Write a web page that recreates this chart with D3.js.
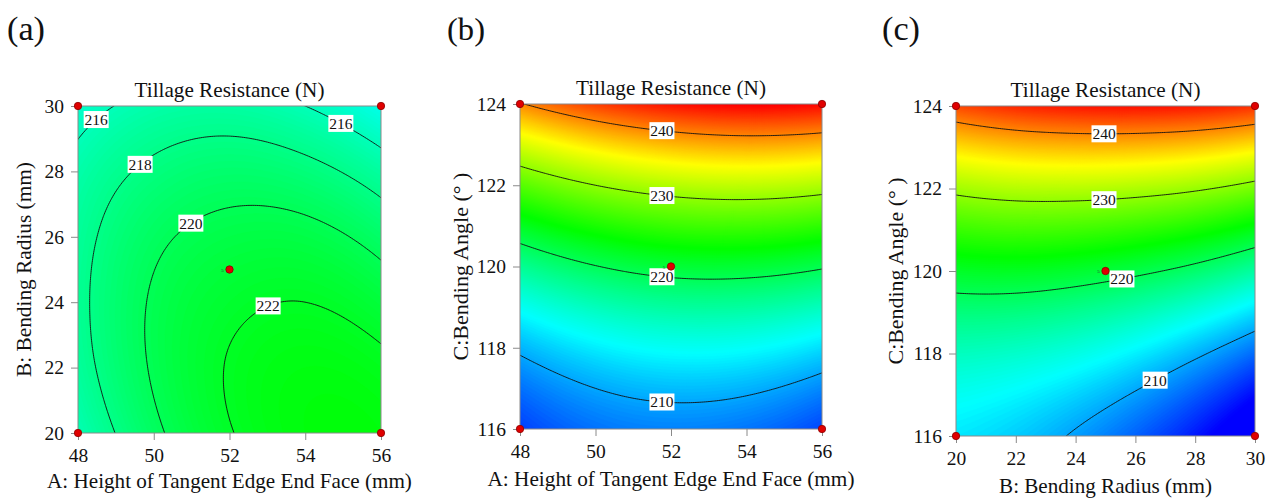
<!DOCTYPE html>
<html>
<head>
<meta charset="utf-8">
<script src="https://cdn.jsdelivr.net/npm/d3@7"></script>
<style>
  body { margin: 0; background: #fff; }
</style>
</head>
<body>
<script>
// ---------------- DATA ----------------
const aTicks = [48, 50, 52, 54, 56];          // A: Height of Tangent Edge End Face (mm)
const bTicks = [20, 22, 24, 26, 28, 30];      // B: Bending Radius (mm)
const cTicks = [116, 118, 120, 122, 124];     // C: Bending Angle (°)

// Tillage resistance (N); rows = B (20 -> 30), cols = A (48 -> 56), C held at 120
const resistanceAB = [
  [216.2, 219.6, 221.9, 223.0, 223.0],
  [217.2, 220.2, 222.1, 222.8, 222.4],
  [217.5, 220.2, 221.6, 222.0, 221.1],
  [217.3, 219.6, 220.6, 220.6, 219.3],
  [216.6, 218.4, 219.1, 218.6, 217.0],
  [215.2, 216.6, 216.9, 216.0, 214.0]
];
// rows = C (116 -> 124), cols = A (48 -> 56), B held at 25
const resistanceAC = [
  [206.3, 208.1, 208.7, 208.2, 206.5],
  [210.5, 212.6, 213.6, 213.4, 212.0],
  [217.5, 219.9, 221.2, 221.3, 220.3],
  [227.3, 230.0, 231.6, 232.1, 231.4],
  [239.8, 242.9, 244.8, 245.6, 245.2]
];
// rows = C (116 -> 124), cols = B (20 -> 30), A held at 52
const resistanceBC = [
  [212.4, 211.4, 209.7, 207.5, 204.8, 201.4],
  [215.8, 215.3, 214.3, 212.7, 210.5, 207.8],
  [221.9, 222.1, 221.6, 220.6, 219.1, 216.9],
  [230.8, 231.6, 231.7, 231.3, 230.4, 228.8],
  [242.5, 243.9, 244.6, 244.8, 244.5, 243.5]
];

const levelsAB = [216, 218, 220, 222];
const levelsC = [210, 220, 230, 240];

const colorStops = [204, 213.2, 223.5, 235, 245.5];
const colorNames = ["#0000ff", "#00ffff", "#00ff00", "#ffff00", "#ff0000"];

const designAB = [[48, 20], [56, 20], [48, 30], [56, 30], [52, 25]];
const designAC = [[48, 116], [56, 116], [48, 124], [56, 124], [52, 120]];
const designBC = [[20, 116], [30, 116], [20, 124], [30, 124], [25, 120]];
const centerRuns = 5;

// ---------------- LAYOUT ----------------
const FONT = "Liberation Serif";
const W = 1271, H = 501;
const svg = d3.select("body").append("svg").attr("width", W).attr("height", H)
  .attr("font-family", FONT);
const color = d3.scaleLinear().domain(colorStops).range(colorNames).clamp(true);

function fit(sel, target, base) {
  sel.attr("font-family", FONT).attr("font-size", base);
  const w = sel.node().getComputedTextLength();
  if (w > 0) sel.attr("font-size", base * target / w);
  return sel;
}

const panels = [
  { tag: "(a)", tagX: 7, box: { l: 78, t: 106, r: 381, b: 433 },
    xt: aTicks, yt: bTicks, grid: resistanceAB, levels: levelsAB, points: designAB,
    xTitle: "A: Height of Tangent Edge End Face (mm)", yTitle: "B: Bending Radius (mm)",
    xTitleW: 365, yTitleW: 215, yTitleX: 31, xTitleDy: 55,
    labels: [[216, 48.48, 29.66], [216, 54.94, 29.45], [218, 49.64, 28.38], [220, 50.98, 26.54], [222, 53.02, 23.88]] },
  { tag: "(b)", tagX: 447, box: { l: 520, t: 104, r: 822, b: 429 },
    xt: aTicks, yt: cTicks, grid: resistanceAC, levels: levelsC, points: designAC,
    xTitle: "A: Height of Tangent Edge End Face (mm)", yTitle: "C:Bending Angle (° )",
    xTitleW: 367, yTitleW: 188, yTitleX: 468, xTitleDy: 57,
    labels: [[240, 51.76, 123.3], [230, 51.76, 121.6], [220, 51.76, 119.6], [210, 51.76, 116.8]] },
  { tag: "(c)", tagX: 882, box: { l: 956, t: 106, r: 1255, b: 436 },
    xt: bTicks, yt: cTicks, grid: resistanceBC, levels: levelsC, points: designBC,
    xTitle: "B: Bending Radius (mm)", yTitle: "C:Bending Angle (° )",
    xTitleW: 213, yTitleW: 187, yTitleX: 903, xTitleDy: 57,
    labels: [[240, 24.95, 123.3], [230, 24.95, 121.6], [220, 25.55, 119.7], [210, 26.66, 117.4]] }
];

function makeField(grid, xt, yt) {
  const sx = xt[1] - xt[0], sy = yt[1] - yt[0];
  const ext = arr => { const n = arr.length; return [3*arr[0]-3*arr[1]+arr[2], ...arr, 3*arr[n-1]-3*arr[n-2]+arr[n-3]]; };
  const cr1 = (arr, u) => {
    const p = ext(arr), n = arr.length;
    const s = Math.max(0, Math.min(n - 2, Math.floor(u)));
    const t = u - s;
    const p0 = p[s], p1 = p[s+1], p2 = p[s+2], p3 = p[s+3];
    return 0.5 * (2*p1 + (-p0+p2)*t + (2*p0-5*p1+4*p2-p3)*t*t + (-p0+3*p1-3*p2+p3)*t*t*t);
  };
  return (x, y) => {
    const u = (x - xt[0]) / sx, v = (y - yt[0]) / sy;
    return cr1(grid.map(row => cr1(row, u)), v);
  };
}

panels.forEach((P, pi) => {
  const { l, t, r, b } = P.box;
  const x = d3.scaleLinear().domain(d3.extent(P.xt)).range([l, r]);
  const y = d3.scaleLinear().domain(d3.extent(P.yt)).range([b, t]);
  const field = makeField(P.grid, P.xt, P.yt);
  const g = svg.append("g");

  const clipId = "clip" + pi;
  svg.append("clipPath").attr("id", clipId).append("rect")
    .attr("x", l).attr("y", t).attr("width", r - l).attr("height", b - t);

  const pad = 6, nx = 170, ny = 170;
  const x0 = l - pad, y0 = t - pad;
  const dx = (r - l + 2*pad) / (nx - 1), dy = (b - t + 2*pad) / (ny - 1);
  const values = new Array(nx * ny);
  for (let j = 0; j < ny; j++) for (let i = 0; i < nx; i++) {
    values[j*nx + i] = field(x.invert(x0 + i*dx), y.invert(y0 + j*dy));
  }
  const proj = d3.geoTransform({ point: function(gx, gy) {
    this.stream.point(x0 + (gx - 0.5) * dx, y0 + (gy - 0.5) * dy);
  }});
  const path = d3.geoPath(proj);
  const vmin = d3.min(values), vmax = d3.max(values);
  const step = 0.2;
  const th = d3.range(Math.floor(vmin / step) * step, vmax + step, step);
  const fills = d3.contours().size([nx, ny]).thresholds(th)(values);

  const plot = g.append("g").attr("clip-path", `url(#${clipId})`);
  plot.selectAll("path.band").data(fills).join("path")
    .attr("class", "band")
    .attr("d", path)
    .attr("fill", d => color(d.value + step / 2))
    .attr("stroke", d => color(d.value + step / 2))
    .attr("stroke-width", 0.3);

  const lines = d3.contours().size([nx, ny]).thresholds(P.levels)(values);
  plot.selectAll("path.iso").data(lines).join("path")
    .attr("class", "iso")
    .attr("d", path)
    .attr("fill", "none")
    .attr("stroke", "#111")
    .attr("stroke-width", 0.9);

  g.append("rect").attr("x", l).attr("y", t).attr("width", r - l).attr("height", b - t)
    .attr("fill", "none").attr("stroke", "#8a8a8a").attr("stroke-width", 1);

  const ax = g.append("g").attr("transform", `translate(0,${b})`)
    .call(d3.axisBottom(x).tickValues(P.xt).tickFormat(d3.format("d")).tickSize(7).tickSizeOuter(0).tickPadding(8));
  const ay = g.append("g").attr("transform", `translate(${l},0)`)
    .call(d3.axisLeft(y).tickValues(P.yt).tickFormat(d3.format("d")).tickSize(7).tickSizeOuter(0).tickPadding(7));
  [ax, ay].forEach(a => {
    a.attr("font-family", FONT).attr("font-size", 19.5);
    a.select(".domain").remove();
    a.selectAll("line").attr("stroke", "#8a8a8a");
    a.selectAll("text").attr("fill", "#111").attr("font-family", FONT).attr("font-size", 19.5);
  });

  P.labels.forEach(([lv, lx, hint]) => {
    const [y0d, y1d] = d3.extent(P.yt);
    let best = hint, bestD = Infinity;
    const N = 800;
    let prev = field(lx, y0d) - lv;
    for (let k = 1; k <= N; k++) {
      const yy = y0d + (y1d - y0d) * k / N;
      const cur = field(lx, yy) - lv;
      if (prev === 0 || prev * cur < 0) {
        const yr = yy - (y1d - y0d) / N * cur / (cur - prev);
        if (Math.abs(yr - hint) < bestD) { bestD = Math.abs(yr - hint); best = yr; }
      }
      prev = cur;
    }
    const cx = x(lx), cy = y(best);
    const lbl = g.append("g");
    lbl.append("rect").attr("x", cx - 12.5).attr("y", cy - 8.5)
      .attr("width", 25).attr("height", 17).attr("fill", "#fff");
    lbl.append("text").attr("x", cx).attr("y", cy + 5.5)
      .attr("text-anchor", "middle").attr("fill", "#111")
      .attr("font-family", FONT).attr("font-size", 15.5).text(lv);
  });

  g.selectAll("circle.pt").data(P.points).join("circle")
    .attr("class", "pt")
    .attr("cx", d => x(d[0])).attr("cy", d => y(d[1])).attr("r", 3.7)
    .attr("fill", "#e00000").attr("stroke", "#8b0000").attr("stroke-width", 0.8);
  const ctr = P.points[P.points.length - 1];
  g.append("text").attr("x", x(ctr[0]) - 7).attr("y", y(ctr[1]) + 2)
    .attr("text-anchor", "middle").attr("font-family", FONT).attr("font-size", 5).attr("fill", "#333").text(centerRuns);

  fit(g.append("text").attr("x", (l + r) / 2).attr("y", t - 9).attr("text-anchor", "middle")
    .attr("fill", "#111").text("Tillage Resistance (N)"), 190, 21);
  fit(g.append("text").attr("x", (l + r) / 2).attr("y", b + P.xTitleDy).attr("text-anchor", "middle")
    .attr("fill", "#111").text(P.xTitle), P.xTitleW, 21);
  fit(g.append("text").attr("transform", `translate(${P.yTitleX},${(t + b) / 2}) rotate(-90)`)
    .attr("text-anchor", "middle").attr("fill", "#111").text(P.yTitle), P.yTitleW, 21);
  fit(g.append("text").attr("x", P.tagX).attr("y", 40).attr("fill", "#111").text(P.tag), 38, 32);
});
</script>
</body>
</html>
